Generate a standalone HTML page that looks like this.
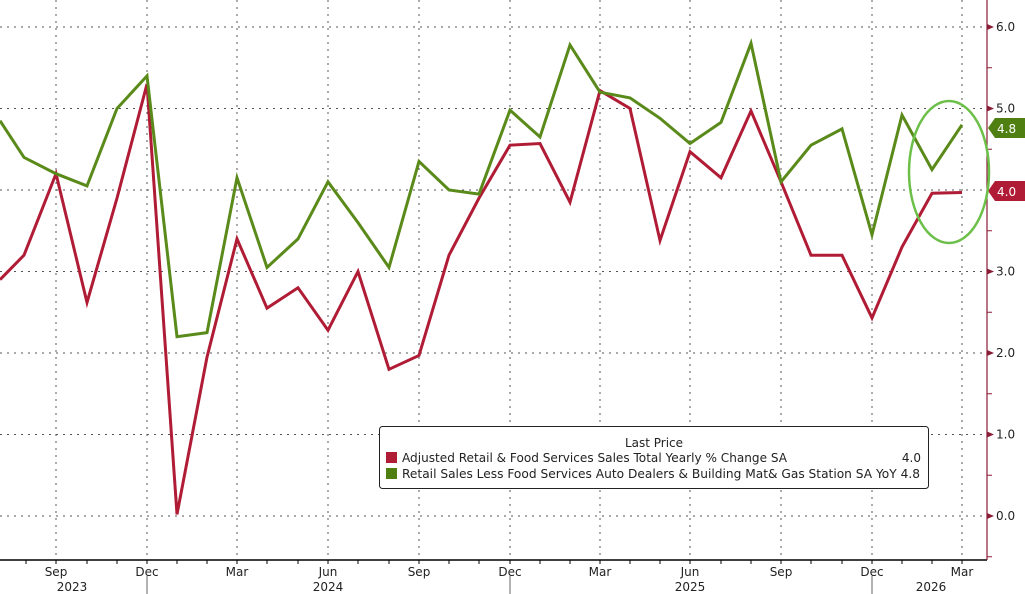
<!DOCTYPE html>
<html><head><meta charset="utf-8"><style>
html,body{margin:0;padding:0;background:#fff;}
svg{display:block;font-family:"DejaVu Sans","Liberation Sans",sans-serif;}
</style></head><body>
<svg width="1025" height="594" viewBox="0 0 1025 594" xmlns="http://www.w3.org/2000/svg">
<rect width="1025" height="594" fill="#fff"/>
<g stroke="#555" stroke-width="1" stroke-dasharray="2,5">
<line x1="0" x2="987" y1="27" y2="27"/>
<line x1="0" x2="987" y1="108.5" y2="108.5"/>
<line x1="0" x2="987" y1="190" y2="190"/>
<line x1="0" x2="987" y1="271.5" y2="271.5"/>
<line x1="0" x2="987" y1="353" y2="353"/>
<line x1="0" x2="987" y1="434.5" y2="434.5"/>
<line x1="0" x2="987" y1="516" y2="516"/>
<line x1="56" x2="56" y1="0" y2="560"/>
<line x1="147" x2="147" y1="0" y2="560"/>
<line x1="237" x2="237" y1="0" y2="560"/>
<line x1="328" x2="328" y1="0" y2="560"/>
<line x1="419" x2="419" y1="0" y2="560"/>
<line x1="510" x2="510" y1="0" y2="560"/>
<line x1="600" x2="600" y1="0" y2="560"/>
<line x1="690" x2="690" y1="0" y2="560"/>
<line x1="781" x2="781" y1="0" y2="560"/>
<line x1="872" x2="872" y1="0" y2="560"/>
<line x1="962" x2="962" y1="0" y2="560"/>
</g>
<!-- axes -->
<line x1="0" x2="987" y1="560" y2="560" stroke="#000" stroke-width="1.5"/>
<line x1="987" x2="987" y1="0" y2="560" stroke="#8a1c35" stroke-width="1.2"/>
<g stroke="#000" stroke-width="1">
<line x1="26" x2="26" y1="560" y2="564"/><line x1="56" x2="56" y1="560" y2="564"/><line x1="87" x2="87" y1="560" y2="564"/><line x1="117" x2="117" y1="560" y2="564"/><line x1="147" x2="147" y1="560" y2="564"/><line x1="177" x2="177" y1="560" y2="564"/><line x1="207" x2="207" y1="560" y2="564"/><line x1="237" x2="237" y1="560" y2="564"/><line x1="267" x2="267" y1="560" y2="564"/><line x1="298" x2="298" y1="560" y2="564"/><line x1="328" x2="328" y1="560" y2="564"/><line x1="358" x2="358" y1="560" y2="564"/><line x1="389" x2="389" y1="560" y2="564"/><line x1="419" x2="419" y1="560" y2="564"/><line x1="449" x2="449" y1="560" y2="564"/><line x1="479" x2="479" y1="560" y2="564"/><line x1="510" x2="510" y1="560" y2="564"/><line x1="540" x2="540" y1="560" y2="564"/><line x1="570" x2="570" y1="560" y2="564"/><line x1="600" x2="600" y1="560" y2="564"/><line x1="630" x2="630" y1="560" y2="564"/><line x1="660" x2="660" y1="560" y2="564"/><line x1="690" x2="690" y1="560" y2="564"/><line x1="721" x2="721" y1="560" y2="564"/><line x1="751" x2="751" y1="560" y2="564"/><line x1="781" x2="781" y1="560" y2="564"/><line x1="811" x2="811" y1="560" y2="564"/><line x1="842" x2="842" y1="560" y2="564"/><line x1="872" x2="872" y1="560" y2="564"/><line x1="902" x2="902" y1="560" y2="564"/><line x1="932" x2="932" y1="560" y2="564"/><line x1="962" x2="962" y1="560" y2="564"/>
<line x1="147" x2="147" y1="576" y2="594" stroke="#666"/><line x1="510" x2="510" y1="576" y2="594" stroke="#666"/><line x1="872" x2="872" y1="576" y2="594" stroke="#666"/>
</g>
<g font-size="12" fill="#222" text-anchor="middle">
<text x="56" y="576">Sep</text><text x="147" y="576">Dec</text><text x="237" y="576">Mar</text><text x="328" y="576">Jun</text><text x="419" y="576">Sep</text><text x="510" y="576">Dec</text><text x="600" y="576">Mar</text><text x="690" y="576">Jun</text><text x="781" y="576">Sep</text><text x="872" y="576">Dec</text><text x="962" y="576">Mar</text>
<text x="72" y="591">2023</text><text x="328" y="591">2024</text><text x="690" y="591">2025</text><text x="931" y="591">2026</text>
</g>
<!-- right axis ticks -->
<g fill="#8a1c35">
<polygon points="987,24 994,27 987,30"/><polygon points="987,105.5 994,108.5 987,111.5"/><polygon points="987,268.5 994,271.5 987,274.5"/><polygon points="987,350 994,353 987,356"/><polygon points="987,431.5 994,434.5 987,437.5"/><polygon points="987,513 994,516 987,519"/>
</g>
<g stroke="#8a1c35"><line x1="987" x2="992" y1="67.75" y2="67.75"/><line x1="987" x2="992" y1="149.25" y2="149.25"/><line x1="987" x2="992" y1="230.75" y2="230.75"/><line x1="987" x2="992" y1="312.25" y2="312.25"/><line x1="987" x2="992" y1="393.75" y2="393.75"/><line x1="987" x2="992" y1="475.25" y2="475.25"/><line x1="987" x2="992" y1="556.75" y2="556.75"/></g>
<g font-size="12" fill="#222">
<text x="996" y="31">6.0</text><text x="996" y="112.5">5.0</text><text x="996" y="275.5">3.0</text><text x="996" y="357">2.0</text><text x="996" y="438.5">1.0</text><text x="996" y="520">0.0</text>
</g>
<polygon points="988,128 995,118 1025,118 1025,138 995,138" fill="#4f7f10"/>
<text x="997" y="133" font-size="12" fill="#fff">4.8</text>
<polygon points="988,191 995,181 1025,181 1025,201 995,201" fill="#b01c35"/>
<text x="997" y="196" font-size="12" fill="#fff">4.0</text>
<!-- series -->
<g transform="translate(0,516) scale(1,-81.5)" fill="none" stroke-linejoin="miter">
<polyline vector-effect="non-scaling-stroke" stroke="#b01c35" stroke-width="3" points="0,2.9 24,3.2 56,4.2 87,2.62 117,3.9 147,5.3 177,0.02 207,1.95 237,3.4 267,2.55 298,2.8 328,2.28 358,3.0 389,1.8 419,1.97 449,3.2 479,3.9 510,4.55 540,4.57 570,3.85 600,5.22 630,5.0 660,3.38 690,4.47 721,4.15 751,4.97 781,4.1 811,3.2 842,3.2 872,2.43 902,3.3 932,3.96 962,3.97"/>
<polyline vector-effect="non-scaling-stroke" stroke="#5a8a1a" stroke-width="3" points="0,4.85 24,4.4 56,4.2 87,4.05 117,5.0 147,5.4 177,2.2 207,2.25 237,4.15 267,3.05 298,3.4 328,4.1 358,3.6 389,3.05 419,4.35 449,4.0 479,3.95 510,4.98 540,4.65 570,5.78 600,5.2 630,5.13 660,4.88 690,4.57 721,4.83 751,5.8 781,4.1 811,4.55 842,4.75 872,3.45 902,4.92 932,4.25 962,4.8"/>
</g>
<ellipse cx="949" cy="172" rx="40" ry="71" fill="none" stroke="#6cc04a" stroke-width="2.5"/>
<!-- legend -->
<rect x="379.5" y="426.5" width="549" height="62" rx="3" fill="#fff" stroke="#222" stroke-width="1"/>
<text x="654" y="447" font-size="12" fill="#222" text-anchor="middle">Last Price</text>
<rect x="386" y="452" width="11" height="11" fill="#b01c35"/>
<rect x="386" y="468" width="11" height="11" fill="#4f7f10"/>
<g font-size="12" fill="#222">
<text x="402" y="462" textLength="385" lengthAdjust="spacingAndGlyphs">Adjusted Retail &amp; Food Services Sales Total Yearly % Change SA</text>
<text x="921" y="462" text-anchor="end">4.0</text>
<text x="402" y="478" textLength="518" lengthAdjust="spacingAndGlyphs">Retail Sales Less Food Services Auto Dealers &amp; Building Mat&amp; Gas Station SA YoY 4.8</text>
</g>
</svg>
</body></html>
